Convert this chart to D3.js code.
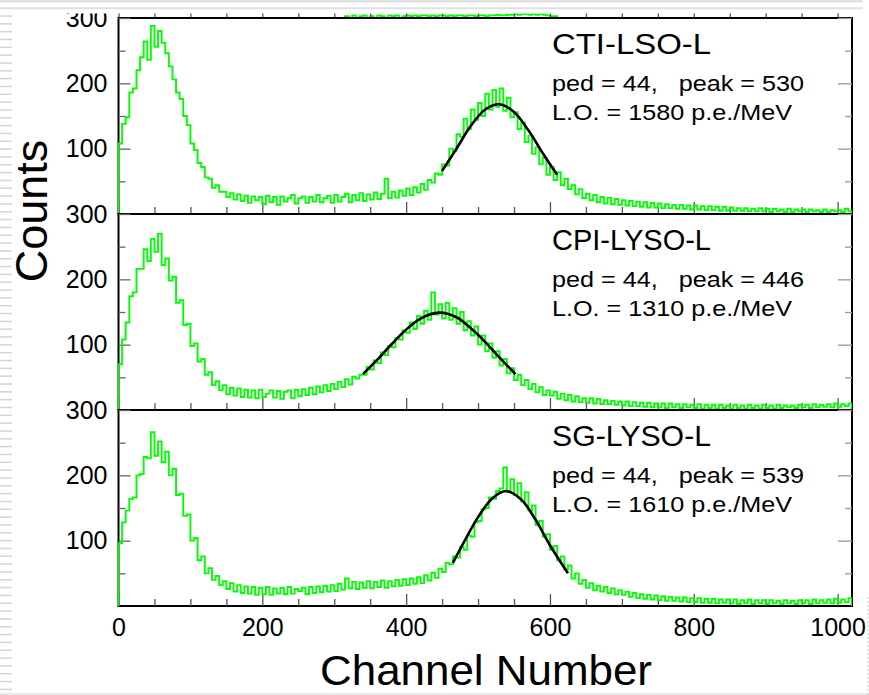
<!DOCTYPE html>
<html><head><meta charset="utf-8">
<script src="https://cdn.jsdelivr.net/npm/d3@7"></script>
<style>
html,body{margin:0;padding:0;background:#fff;}
svg{display:block;font-family:"Liberation Sans",Arial,Helvetica,sans-serif;}
</style></head><body>
<svg id="chart" width="869" height="695"></svg>
<script>
// ---------- data ----------
const binWidth = 5; // channels per bin
const ctiLsoCounts = [108,138,148,186,192,220,240,264,236,288,
256,280,262,246,226,206,186,176,150,136,
108,98,78,72,56,54,40,44,34,34,
26,32,22,30,20,28,17,27,21,26,
15,28,18,26,14,27,19,24,29,16,
24,27,17,26,19,29,18,24,28,17,
29,19,26,31,18,29,21,32,20,30,
22,33,23,31,54,24,34,25,36,28,
39,29,41,33,46,37,52,48,62,60,
76,74,100,96,122,118,146,130,160,144,
170,150,184,160,190,164,192,158,178,148,
156,130,140,110,120,92,102,76,86,60,
72,52,64,44,54,38,44,30,38,24,
31,21,29,18,26,16,25,15,23,14,
21,13,20,12,19,11,18,10,17,10,
16,9,15,9,14,8,14,8,13,7,
13,7,12,6,12,6,11,5,11,5,
10,5,9,5,9,4,8,4,9,4,
8,3,8,4,7,3,8,3,7,4,
7,3,7,4,6,3,7,3,6,4,
6,3,8,4];
const cpiLysoCounts = [70,108,134,174,180,216,216,246,228,262,
242,270,222,232,198,204,164,168,130,132,
98,102,74,78,54,58,38,44,30,38,
24,34,22,33,20,31,19,30,18,31,
20,25,30,19,29,17,28,30,18,31,
21,32,23,34,24,36,27,38,29,40,
32,43,35,47,39,51,48,54,54,66,
62,76,72,88,84,98,96,110,108,122,
118,134,124,144,132,152,138,180,146,162,
140,164,138,156,132,150,122,136,114,128,
100,114,90,102,80,90,68,78,56,64,
46,54,38,46,32,40,27,35,23,30,
22,28,17,25,15,23,13,21,12,18,
11,18,10,17,9,15,9,14,8,13,
7,13,6,12,6,11,5,11,4,10,
4,10,3,10,4,9,3,9,4,8,
3,9,2,8,3,8,2,8,3,7,
2,8,3,7,2,8,3,7,2,8,
3,7,2,8,3,7,4,7,3,8,
4,8,3,9,4,8,5,9,4,10,
5,9,6,10];
const sgLysoCounts = [96,128,146,164,166,200,202,228,226,266,
230,252,220,236,200,210,170,172,138,140,
100,104,70,76,50,58,40,46,32,38,
26,35,22,32,20,30,19,29,17,28,
18,29,17,27,19,28,18,29,19,26,
23,28,18,29,20,30,21,31,22,32,
23,34,25,42,27,37,26,36,28,38,
27,37,29,39,28,38,30,40,31,41,
32,42,34,44,35,47,39,51,43,57,
52,66,64,76,74,90,86,108,106,128,
130,148,150,166,164,176,180,212,174,194,
170,188,160,174,146,154,124,130,106,110,
86,92,70,76,56,62,42,50,34,40,
28,35,24,31,22,29,20,27,18,24,
17,22,14,20,12,18,11,17,10,16,
9,15,8,14,8,13,7,13,6,12,
6,12,5,11,5,11,4,10,5,10,
4,10,3,9,4,10,3,9,4,9,
3,9,4,8,3,9,4,8,3,9,
4,9,3,10,4,9,5,10,4,11,
5,10,6,12];
// tail of the (cropped) panel above the first one
const upperStripStart = 310;
const upperStripCounts = [0,3,0,4,0,3,4,0,3,0,4,3,0,4,3,4,0,3,4,3,
4,3,4,4,3,4,3,4,4,3,4,3,4,4,3,4,4,3,4,4,
3,4,4,5,4,4,5,5,6,5,6,6,5,6,5,6,5,4,3,3,
0,0,0,0,0];
const crystalNames = ["CTI-LSO-L","CPI-LYSO-L","SG-LYSO-L"];
const pedValues = [44,44,44];
const peakValues = [530,446,539];
const lightOutputs = [1580,1310,1610];
const fitCti = [[450,66],[470,100],[490,135],[510,160],[530,168],[550,156],[570,128],[590,93],[610,60]];
const fitCpi = [[340,55],[360,77],[380,101],[400,123],[420,140],[446,149],[470,142],[490,125],[510,104],[530,80],[552,55]];
const fitSg = [[465,66],[480,97],[500,136],[520,165],[539,176],[560,163],[580,132],[600,93],[625,50]];
const xTickValues = [0,200,400,600,800,1000];
const xMinorValues = [50,100,150,250,300,350,450,500,550,650,700,750,850,900,950];
const yTickValues = [100,200,300];
const yMinorValues = [50,150,250];

// ---------- layout ----------
const svg = d3.select("#chart");
const left = 118.5, right = 852, top0 = 18, panelH = 196;
const green = "#00ff00";
const x = d3.scaleLinear().domain([0,1020]).range([left,right]);
const histSets = [ctiLsoCounts, cpiLysoCounts, sgLysoCounts];
const fitSets = [fitCti, fitCpi, fitSg];

function stepPoints(counts, start, y){
  const pts = [[x(start), y(0)]];
  counts.forEach((c,i)=>{
    pts.push([x(start+i*binWidth), y(c)], [x(start+(i+1)*binWidth), y(c)]);
  });
  pts.push([x(start+counts.length*binWidth), y(0)]);
  return pts;
}
const line = d3.line();

// upper cropped panel strip
{
  const yU = d3.scaleLinear().domain([0,300]).range([top0, top0-panelH]);
  svg.append("clipPath").attr("id","clipU").append("rect")
    .attr("x",left).attr("y",0).attr("width",right-left).attr("height",top0);
  svg.append("path").attr("clip-path","url(#clipU)")
    .attr("d", line(stepPoints(upperStripCounts, upperStripStart, yU)))
    .attr("fill","none").attr("stroke",green).attr("stroke-width",1.8);
  const gU = svg.append("g").attr("transform",`translate(0,${top0})`);
  gU.call(d3.axisBottom(x).tickValues(xTickValues).tickSizeInner(-12).tickSizeOuter(0).tickFormat(""));
  gU.call(g=>g.select(".domain").remove());
  const gU2 = svg.append("g").attr("transform",`translate(0,${top0})`);
  gU2.call(d3.axisBottom(x).tickValues(xMinorValues).tickSizeInner(-6).tickSizeOuter(0).tickFormat(""));
  gU2.call(g=>g.select(".domain").remove());
  svg.selectAll("g line").attr("stroke","#555").attr("stroke-width",1.3);
}

for (let k=0;k<3;k++){
  const top = top0 + k*panelH, bottom = top + panelH;
  const y = d3.scaleLinear().domain([0,300]).range([bottom, top]);
  const g = svg.append("g");
  // frame
  g.append("rect").attr("x",left).attr("y",top).attr("width",right-left).attr("height",panelH)
    .attr("fill","none").attr("stroke","#000").attr("stroke-width",2);
  // axes (inward ticks)
  const ax = [
    [d3.axisBottom(x).tickValues(xTickValues).tickSizeInner(-12).tickSizeOuter(0).tickPadding(12)
       .tickFormat(k===2 ? d3.format("d") : ""), `translate(0,${bottom})`, "#555"],
    [d3.axisBottom(x).tickValues(xMinorValues).tickSizeInner(-7).tickSizeOuter(0).tickFormat(""), `translate(0,${bottom})`, "#555"],
    [d3.axisLeft(y).tickValues(yTickValues).tickSizeInner(-12).tickSizeOuter(0).tickPadding(11), `translate(${left},0)`, "#666"],
    [d3.axisLeft(y).tickValues(yMinorValues).tickSizeInner(-7).tickSizeOuter(0).tickFormat(""), `translate(${left},0)`, "#666"],
    [d3.axisRight(y).tickValues(yTickValues).tickSizeInner(-14).tickSizeOuter(0).tickFormat(""), `translate(${right},0)`, "#999"],
    [d3.axisRight(y).tickValues(yMinorValues).tickSizeInner(-7).tickSizeOuter(0).tickFormat(""), `translate(${right},0)`, "#999"]
  ];
  ax.forEach(([a,t,col])=>{
    const ga = g.append("g").attr("transform",t).call(a);
    ga.select(".domain").remove();
    ga.selectAll("line").attr("stroke",col).attr("stroke-width",1.3);
    ga.selectAll("text").attr("font-size",25).attr("fill","#000")
      .attr("font-family",'"Liberation Sans",Arial,Helvetica,sans-serif');
  });
  // histogram
  svg.append("clipPath").attr("id","clip"+k).append("rect")
    .attr("x",left-1).attr("y",top).attr("width",right-left+1).attr("height",panelH);
  svg.append("path").attr("clip-path",`url(#clip${k})`)
    .attr("d", line(stepPoints(histSets[k], 0, y)))
    .attr("fill","none").attr("stroke",green).attr("stroke-width",1.9).attr("stroke-linejoin","miter");
  // fit
  svg.append("path")
    .attr("d", d3.line().x(d=>x(d[0])).y(d=>y(d[1])).curve(d3.curveCatmullRom)(fitSets[k]))
    .attr("fill","none").attr("stroke","#000").attr("stroke-width",2.6);
  // labels
  svg.append("text").attr("x",552).attr("y",top+36).attr("font-size",29)
    .attr("textLength",159).attr("lengthAdjust","spacingAndGlyphs").text(crystalNames[k]);
  svg.append("text").attr("x",552).attr("y",top+73).attr("font-size",22).style("white-space","pre")
    .attr("textLength",252).attr("lengthAdjust","spacingAndGlyphs")
    .text(`ped = ${pedValues[k]},   peak = ${peakValues[k]}`);
  svg.append("text").attr("x",552).attr("y",top+102).attr("font-size",22)
    .attr("textLength",240).attr("lengthAdjust","spacingAndGlyphs")
    .text(`L.O. = ${lightOutputs[k]} p.e./MeV`);
}

// axis titles
svg.append("text").attr("transform","translate(47,211) rotate(-90)").attr("text-anchor","middle")
  .attr("font-size",45).text("Counts");
svg.append("text").attr("x",486).attr("y",685).attr("text-anchor","middle")
  .attr("font-size",42).attr("textLength",332).attr("lengthAdjust","spacingAndGlyphs").text("Channel Number");

// screenshot frame decorations
svg.append("rect").attr("x",0).attr("y",0).attr("width",869).attr("height",13.5).attr("fill","#fff");
svg.append("line").attr("x1",0).attr("x2",863).attr("y1",1.2).attr("y2",1.2).attr("stroke","#dcdcdc").attr("stroke-width",2);
svg.append("line").attr("x1",0).attr("x2",863).attr("y1",8.3).attr("y2",8.3).attr("stroke","#e0e0e0").attr("stroke-width",2);
svg.append("g").selectAll("line").data(d3.range(16,695,7.83)).join("line")
  .attr("x1",0).attr("x2",12).attr("y1",d=>d).attr("y2",d=>d).attr("stroke","#d4d4d4").attr("stroke-width",1.5);
svg.append("line").attr("x1",0).attr("x2",869).attr("y1",694).attr("y2",694).attr("stroke","#e2e2e2").attr("stroke-width",1.5);
svg.append("line").attr("x1",868).attr("x2",868).attr("y1",597).attr("y2",695).attr("stroke","#c8c8c8")
  .attr("stroke-width",1).attr("stroke-dasharray","2,2");
</script></body></html>
